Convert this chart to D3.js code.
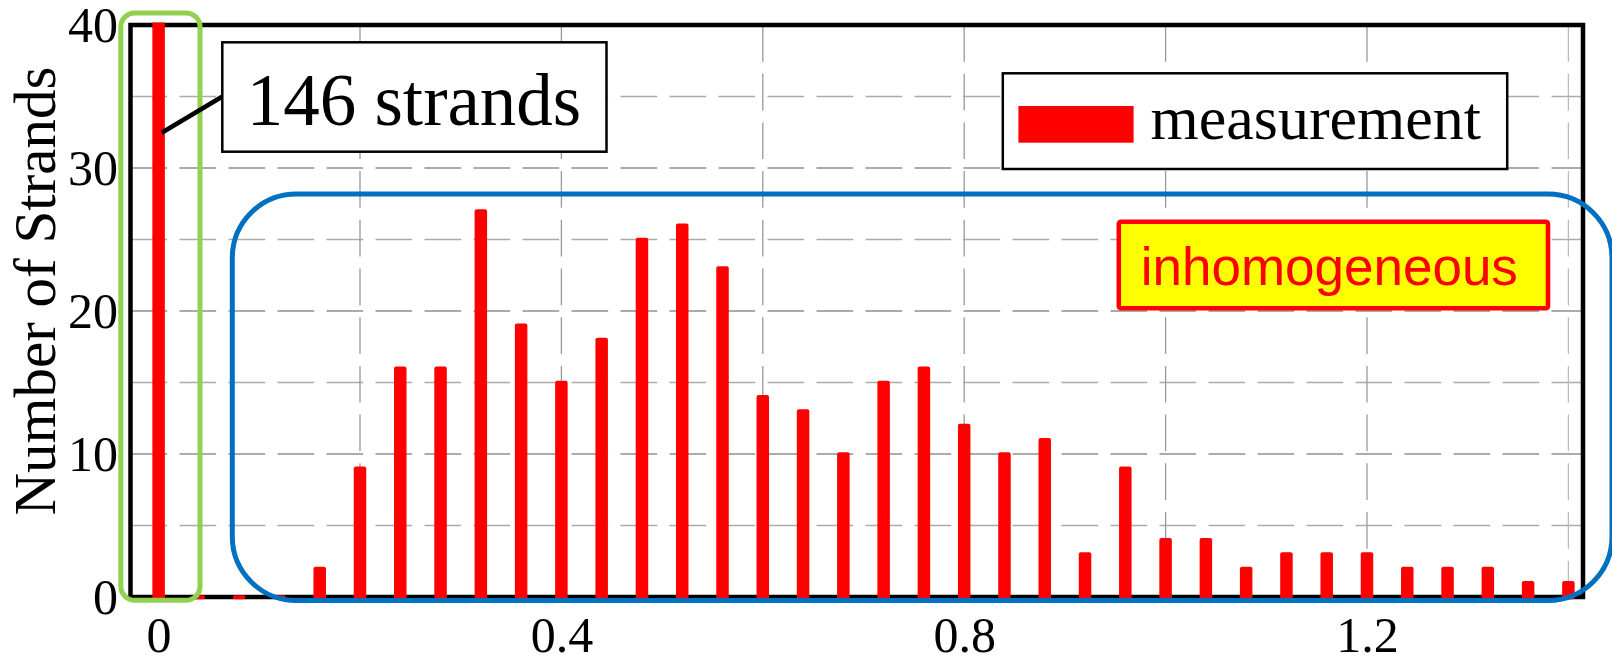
<!DOCTYPE html>
<html>
<head>
<meta charset="utf-8">
<script src="https://cdn.jsdelivr.net/npm/d3@7/dist/d3.min.js"></script>
<style>
  html, body { margin: 0; padding: 0; background: #fff; }
  svg { display: block; }
</style>
</head>
<body>
<script>
// ---------------- data ----------------
const binCenters = [0, 0.04, 0.08, 0.12, 0.16, 0.20, 0.24, 0.28, 0.32, 0.36,
                    0.40, 0.44, 0.48, 0.52, 0.56, 0.60, 0.64, 0.68, 0.72, 0.76,
                    0.80, 0.84, 0.88, 0.92, 0.96, 1.00, 1.04, 1.08, 1.12, 1.16,
                    1.20, 1.24, 1.28, 1.32, 1.36, 1.40];
const strandCounts = [146, 0, 0, 0, 2, 9, 16, 16, 27, 19,
                      15, 18, 25, 26, 23, 14, 13, 10, 15, 16,
                      12, 10, 11, 3, 9, 4, 4, 2, 3, 3,
                      3, 2, 2, 2, 1, 1];
const xTickValues = [0, 0.4, 0.8, 1.2];
const yTickValues = [0, 10, 20, 30, 40];
const xGridValues = [0.2, 0.4, 0.6, 0.8, 1.0, 1.2, 1.4];
const yGridValues = [5, 10, 15, 20, 25, 30, 35];
const yLabel = "Number of Strands";
const legendLabel = "measurement";
const calloutLabel = "146 strands";
const regionLabel = "inhomogeneous";

// ---------------- layout ----------------
const W = 1612, H = 656;
const plot = { left: 130.5, right: 1583, top: 25, bottom: 597 };

const x = d3.scaleLinear().domain([-0.0279, 1.4145]).range([plot.left, plot.right]);
const y = d3.scaleLinear().domain([0, 40]).range([plot.bottom, plot.top]);

const svg = d3.select("body").append("svg").attr("width", W).attr("height", H);

const defs = svg.append("defs");
defs.append("clipPath").attr("id", "barclip")
  .append("rect").attr("x", plot.left - 5).attr("y", 22.5)
  .attr("width", plot.right - plot.left + 10).attr("height", H - 22.5);

// grid
const grid = svg.append("g");
grid.selectAll("line.h").data(yGridValues).join("line")
  .attr("x1", plot.left).attr("x2", plot.right)
  .attr("y1", d => y(d)).attr("y2", d => y(d))
  .attr("stroke", d => d % 10 === 0 ? "#909090" : "#ababab")
  .attr("stroke-width", 1.3)
  .attr("stroke-dasharray", "36.7 12.3");
grid.selectAll("line.v").data(xGridValues).join("line")
  .attr("x1", d => x(d)).attr("x2", d => x(d))
  .attr("y1", plot.top).attr("y2", plot.bottom)
  .attr("stroke", d => d > 1.3 ? "#bbbbbb" : "#999999")
  .attr("stroke-width", 1.3)
  .attr("stroke-dasharray", "36.7 12");

// frame
svg.append("rect")
  .attr("x", plot.left).attr("y", plot.top)
  .attr("width", plot.right - plot.left).attr("height", plot.bottom - plot.top)
  .attr("fill", "none").attr("stroke", "#000").attr("stroke-width", 4.5);

// axes
const fontSerif = "'Liberation Serif', 'Times New Roman', serif";
const yAxis = svg.append("g").attr("transform", `translate(${plot.left},0)`)
  .call(d3.axisLeft(y).tickValues(yTickValues).tickSize(0).tickPadding(12.5).tickFormat(d => String(d)));
const xAxis = svg.append("g").attr("transform", `translate(0,${plot.bottom})`)
  .call(d3.axisBottom(x).tickValues(xTickValues).tickSize(0).tickPadding(19.5).tickFormat(d => String(d)));
[yAxis, xAxis].forEach(a => {
  a.select(".domain").remove();
  a.selectAll("text").attr("font-family", fontSerif).attr("font-size", 50).attr("fill", "#000");
});

// y label
svg.append("text")
  .attr("transform", `translate(55,291) rotate(-90)`)
  .attr("text-anchor", "middle")
  .attr("font-family", fontSerif).attr("font-size", 59).attr("fill", "#000")
  .text(yLabel);

// bars
const barW = 12.5;
svg.append("g").attr("clip-path", "url(#barclip)")
  .selectAll("rect").data(binCenters.map((c, i) => ({ c, v: strandCounts[i] }))).join("rect")
  .attr("x", d => x(d.c) - barW / 2)
  .attr("width", barW)
  .attr("y", d => y(d.v) - 1.75)
  .attr("height", d => y(0) - y(d.v) + 4)
  .attr("rx", 2)
  .attr("fill", "#ff0000");

// green box around the 0 bin
svg.append("rect")
  .attr("x", 120.8).attr("y", 13).attr("width", 200 - 120.8).attr("height", 600.3 - 13)
  .attr("rx", 14).attr("fill", "none").attr("stroke", "#92d050").attr("stroke-width", 5);

// blue box around the inhomogeneous region
svg.append("rect")
  .attr("x", 232.3).attr("y", 194).attr("width", 1612 - 232.3).attr("height", 600.5 - 194)
  .attr("rx", 64).attr("fill", "none").attr("stroke", "#0070c0").attr("stroke-width", 5);

// callout "146 strands"
svg.append("rect")
  .attr("x", 222.3).attr("y", 42.3).attr("width", 606.5 - 222.3).attr("height", 151.7 - 42.3)
  .attr("fill", "#fff").attr("stroke", "#000").attr("stroke-width", 2.5);
svg.append("text")
  .attr("x", 246.7).attr("y", 125)
  .attr("font-family", fontSerif).attr("font-size", 73).attr("fill", "#000")
  .text(calloutLabel);
svg.append("line")
  .attr("x1", 161.7).attr("y1", 132.7).attr("x2", 222).attr("y2", 96.7)
  .attr("stroke", "#000").attr("stroke-width", 4.5);

// legend
svg.append("rect")
  .attr("x", 1002.8).attr("y", 73.3).attr("width", 1507.2 - 1002.8).attr("height", 169 - 73.3)
  .attr("fill", "#fff").attr("stroke", "#000").attr("stroke-width", 2.5);
svg.append("rect")
  .attr("x", 1018.4).attr("y", 106).attr("width", 1133.6 - 1018.4).attr("height", 142.7 - 106)
  .attr("fill", "#ff0000");
svg.append("text")
  .attr("x", 1150.5).attr("y", 139.3)
  .attr("font-family", fontSerif).attr("font-size", 62).attr("fill", "#000")
  .text(legendLabel);

// inhomogeneous label
svg.append("rect")
  .attr("x", 1118.8).attr("y", 221.7).attr("width", 1548 - 1118.8).attr("height", 308.3 - 221.7)
  .attr("rx", 2).attr("fill", "#ffff00").attr("stroke", "#ff0000").attr("stroke-width", 4.5);
svg.append("text")
  .attr("x", 1140.7).attr("y", 285)
  .attr("font-family", "'Liberation Sans', Arial, sans-serif").attr("font-size", 53).attr("fill", "#ff0000")
  .text(regionLabel);
</script>
</body>
</html>
